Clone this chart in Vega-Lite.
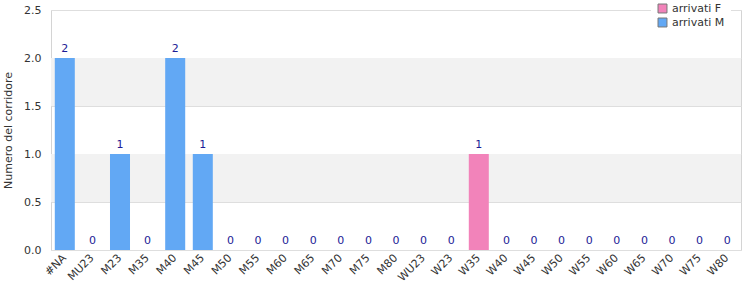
{
  "$schema": "https://vega.github.io/schema/vega-lite/v6.json",
  "width": 690,
  "height": 240,
  "autosize": {"type": "none"},
  "padding": {"left": 51, "top": 10, "right": 9, "bottom": 50},
  "config": {
    "font": "DejaVu Sans",
    "view": {"stroke": "#d4d4d4", "strokeWidth": 1},
    "axis": {"labelFont": "DejaVu Sans", "titleFont": "DejaVu Sans", "labelColor": "#333333", "titleColor": "#333333", "labelFontSize": 11, "titleFontSize": 11, "titleFontWeight": "normal"},
    "axisX": {"labelAngle": -45, "labelAlign": "right", "labelBaseline": "middle", "ticks": false, "domain": false, "labelPadding": 6}
  },
  "datasets": {
    "bands": [{"lo": 0.5, "hi": 1.0}, {"lo": 1.5, "hi": 2.0}],
    "runners": [
      {"cat": "#NA", "series": "arrivati M", "value": 2},
      {"cat": "MU23", "series": "arrivati M", "value": 0},
      {"cat": "M23", "series": "arrivati M", "value": 1},
      {"cat": "M35", "series": "arrivati M", "value": 0},
      {"cat": "M40", "series": "arrivati M", "value": 2},
      {"cat": "M45", "series": "arrivati M", "value": 1},
      {"cat": "M50", "series": "arrivati M", "value": 0},
      {"cat": "M55", "series": "arrivati M", "value": 0},
      {"cat": "M60", "series": "arrivati M", "value": 0},
      {"cat": "M65", "series": "arrivati M", "value": 0},
      {"cat": "M70", "series": "arrivati M", "value": 0},
      {"cat": "M75", "series": "arrivati M", "value": 0},
      {"cat": "M80", "series": "arrivati M", "value": 0},
      {"cat": "WU23", "series": "arrivati F", "value": 0},
      {"cat": "W23", "series": "arrivati F", "value": 0},
      {"cat": "W35", "series": "arrivati F", "value": 1},
      {"cat": "W40", "series": "arrivati F", "value": 0},
      {"cat": "W45", "series": "arrivati F", "value": 0},
      {"cat": "W50", "series": "arrivati F", "value": 0},
      {"cat": "W55", "series": "arrivati F", "value": 0},
      {"cat": "W60", "series": "arrivati F", "value": 0},
      {"cat": "W65", "series": "arrivati F", "value": 0},
      {"cat": "W70", "series": "arrivati F", "value": 0},
      {"cat": "W75", "series": "arrivati F", "value": 0},
      {"cat": "W80", "series": "arrivati F", "value": 0}
    ]
  },
  "layer": [
    {
      "data": {"name": "bands"},
      "mark": {"type": "rect", "color": "#f2f2f2"},
      "encoding": {
        "x": {"value": 0},
        "x2": {"value": "width"},
        "y": {"field": "lo", "type": "quantitative", "scale": {"domain": [0, 2.5], "nice": false},
          "axis": {"title": "Numero del corridore", "values": [0, 0.5, 1, 1.5, 2, 2.5], "format": ".1f", "ticks": false, "domain": false, "gridColor": "#dedede", "labelPadding": 10, "titlePadding": 10}},
        "y2": {"field": "hi"}
      }
    },
    {
      "data": {"name": "runners"},
      "layer": [
        {
          "mark": {"type": "bar"},
          "encoding": {
            "x": {"field": "cat", "type": "nominal", "sort": null,
              "scale": {"paddingInner": 0.275, "paddingOuter": 0.1375},
              "axis": {"title": null}},
            "y": {"field": "value", "type": "quantitative"},
            "color": {"field": "series", "type": "nominal",
              "scale": {"domain": ["arrivati F", "arrivati M"], "range": ["#f283ba", "#62a8f4"]},
              "legend": {"title": null, "orient": "none", "legendX": 600, "legendY": -13, "fillColor": "white", "padding": 6, "symbolType": "square", "symbolSize": 80, "symbolStrokeColor": "#777777", "symbolStrokeWidth": 1, "labelFontSize": 11, "labelColor": "#333333", "labelFont": "DejaVu Sans", "rowPadding": 1}}
          }
        },
        {
          "mark": {"type": "text", "color": "#1c1c96", "fontSize": 11, "dy": -4, "baseline": "bottom"},
          "encoding": {
            "x": {"field": "cat", "type": "nominal", "sort": null},
            "y": {"field": "value", "type": "quantitative"},
            "text": {"field": "value", "type": "quantitative"}
          }
        }
      ]
    }
  ]
}
